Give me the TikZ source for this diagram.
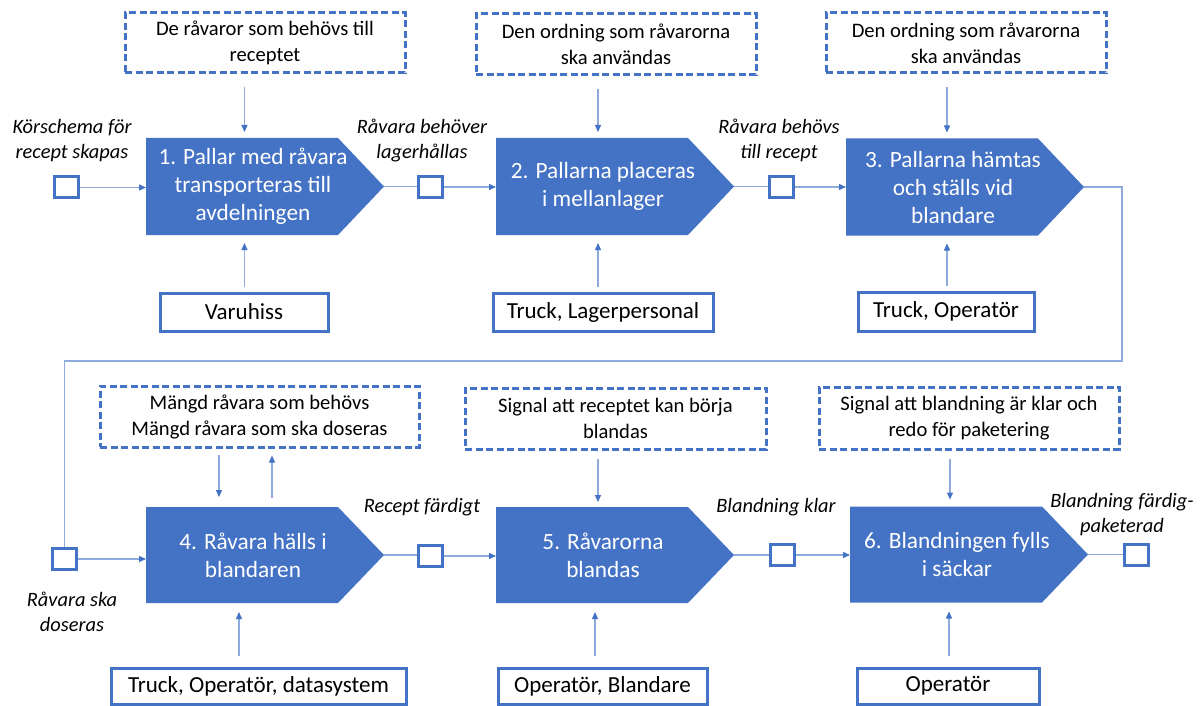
\documentclass[tikz,border=0pt]{standalone}
\usepackage{fontspec}
\setmainfont{Carlito}
\usetikzlibrary{arrows.meta,calc}
\definecolor{pblue}{HTML}{4472C4}
\definecolor{lblue}{HTML}{8FAADC}
\newcommand\procshape[1]{\fill[pblue] (#1.north west) -- ([xshift=-46pt]#1.north east) -- (#1.east) -- ([xshift=-46pt]#1.south east) -- (#1.south west) -- cycle;}
\tikzset{
 procbox/.style={minimum width=238pt, minimum height=97pt, inner sep=0pt, outer sep=0pt},
 proctext/.style={text=white, font=\fontsize{23.3}{28}\selectfont, align=center, inner sep=0pt},
 infobox/.style={draw=pblue, line width=3pt, dash pattern=on 7pt off 3.5pt, font=\fontsize{20.6}{26}\selectfont, align=center, inner sep=0pt},
 resbox/.style={draw=pblue, line width=3pt, font=\fontsize{23}{28}\selectfont, inner sep=0pt},
 evbox/.style={draw=pblue, line width=3pt, minimum width=24pt, minimum height=21pt, inner sep=0pt},
 evlabel/.style={font=\itshape\fontsize{20.4}{25}\selectfont, align=center, inner sep=0pt},
 conn/.style={draw=lblue, line width=1.3pt},
 arr/.style={conn, -{Triangle[length=7pt,width=6pt,color=pblue]}},
}
\begin{document}
\begin{tikzpicture}[x=1pt,y=-1pt]
\fill[white] (0,0) rectangle (1203,706);
\useasboundingbox (0,0) rectangle (1203,706);

% process nodes
\node[procbox] (p1) at (265,186.5) {};
\node[procbox] (p2) at (615,186.5) {};
\node[procbox] (p3) at (965,187) {};
\node[procbox,minimum height=96pt] (p4) at (265,555) {};
\node[procbox,minimum height=96pt] (p5) at (615,555) {};
\node[procbox,minimum height=96pt] (p6) at (969,554.5) {};
\procshape{p1}\procshape{p2}\procshape{p3}\procshape{p4}\procshape{p5}\procshape{p6}
\node[proctext] (t1) at ([xshift=-12pt]p1.center) {1. Pallar med råvara\\transporteras till\\avdelningen};
\node[proctext] (t2) at ([xshift=-12pt]p2.center) {2. Pallarna placeras\\i mellanlager};
\node[proctext] (t3) at ([xshift=-12pt]p3.center) {3. Pallarna hämtas\\och ställs vid\\blandare};
\node[proctext] (t4) at ([xshift=-12pt]p4.center) {4. Råvara hälls i\\blandaren};
\node[proctext] (t5) at ([xshift=-12pt]p5.center) {5. Råvarorna\\blandas};
\node[proctext] (t6) at ([xshift=-12pt]p6.center) {6. Blandningen fylls\\i säckar};

% information boxes
\node[infobox,minimum width=280pt,minimum height=60pt] (d1) at (265,43) {De råvaror som behövs till\\receptet};
\node[infobox,minimum width=280pt,minimum height=61pt] (d2) at (616,44.5) {Den ordning som råvarorna\\ska användas};
\node[infobox,minimum width=280pt,minimum height=60pt] (d3) at (966,43) {Den ordning som råvarorna\\ska användas};
\node[infobox,minimum width=319pt,minimum height=61pt] (d4) at (259.5,416.5) {Mängd råvara som behövs\\Mängd råvara som ska doseras};
\node[infobox,minimum width=301pt,minimum height=61pt] (d5) at (615.5,418.5) {Signal att receptet kan börja\\blandas};
\node[infobox,minimum width=300pt,minimum height=62pt] (d6) at (969,418) {Signal att blandning är klar och\\redo för paketering};

% resource boxes
\node[resbox,minimum width=168pt,minimum height=38pt] (r1) at (244,312) {Varuhiss};
\node[resbox,minimum width=220pt,minimum height=38pt] (r2) at (603,312) {Truck, Lagerpersonal};
\node[resbox,minimum width=176pt,minimum height=39pt] (r3) at (946,311.5) {Truck, Operatör};
\node[resbox,minimum width=295pt,minimum height=36pt] (r4) at (258.5,686) {Truck, Operatör, datasystem};
\node[resbox,minimum width=209pt,minimum height=36pt] (r5) at (602.5,686) {Operatör, Blandare};
\node[resbox,minimum width=182pt,minimum height=36pt] (r6) at (948,686) {Operatör};

% event squares
\node[evbox] (s1) at (66,187.5) {};
\node[evbox] (s2) at (430.5,187) {};
\node[evbox] (s3) at (781.5,187) {};
\node[evbox] (s4) at (64.5,559) {};
\node[evbox] (s5) at (430.5,556) {};
\node[evbox] (s6) at (782.5,555) {};
\node[evbox] (s7) at (1136.5,554.5) {};

% event labels
\node[evlabel] (l1) at (72,140.5) {Körschema för\\recept skapas};
\node[evlabel] (l2) at (422,140.5) {Råvara behöver\\lagerhållas};
\node[evlabel] (l3) at (779,140) {Råvara behövs\\till recept};
\node[evlabel] (l4) at (72,611.5) {Råvara ska\\doseras};
\node[evlabel] (l5) at (422,507) {Recept färdigt};
\node[evlabel] (l6) at (776,507) {Blandning klar};
\node[evlabel] (l7) at (1122,515) {Blandning färdig-\\paketerad};

% arrow x positions
\coordinate (u1) at (244.5,0);
\coordinate (u2) at (598,0);
\coordinate (u3) at (947,0);
\coordinate (v4a) at (219,0);
\coordinate (v4b) at (272,0);
\coordinate (v4c) at (239,0);
\coordinate (v5a) at (598,0);
\coordinate (v5c) at (595,0);
\coordinate (v6a) at (950,0);
\coordinate (v6c) at (949,0);
\coordinate (k1) at (1122,361);

% vertical arrows row 1
\draw[arr,shorten <=13pt,shorten >=6pt] (d1.south -| u1) -- (p1.north -| u1);
\draw[arr,shorten <=13pt,shorten >=6pt] (d2.south -| u2) -- (p2.north -| u2);
\draw[arr,shorten <=13pt,shorten >=6pt] (d3.south -| u3) -- (p3.north -| u3);
\draw[arr,shorten <=5pt,shorten >=8pt] (r1.north -| u1) -- (p1.south -| u1);
\draw[arr,shorten <=5pt,shorten >=8pt] (r2.north -| u2) -- (p2.south -| u2);
\draw[arr,shorten <=5pt,shorten >=8pt] (r3.north -| u3) -- (p3.south -| u3);

% vertical arrows row 2
\draw[arr,shorten <=6pt,shorten >=10pt] (d4.south -| v4a) -- (p4.north -| v4a);
\draw[arr,shorten <=9pt,shorten >=7pt] (p4.north -| v4b) -- (d4.south -| v4b);
\draw[arr,shorten <=8pt,shorten >=5pt] (d5.south -| v5a) -- (p5.north -| v5a);
\draw[arr,shorten <=8pt,shorten >=7pt] (d6.south -| v6a) -- (p6.north -| v6a);
\draw[arr,shorten <=11pt,shorten >=9pt] (r4.north -| v4c) -- (p4.south -| v4c);
\draw[arr,shorten <=11pt,shorten >=9pt] (r5.north -| v5c) -- (p5.south -| v5c);
\draw[arr,shorten <=11pt,shorten >=9pt] (r6.north -| v6c) -- (p6.south -| v6c);

% horizontal flow row 1
\draw[arr] (s1.east) -- (s1.east -| p1.west);
\draw[conn] (p1.east) -- (p1.east -| s2.west);
\draw[arr] (s2.east) -- (s2.east -| p2.west);
\draw[conn] (p2.east) -- (p2.east -| s3.west);
\draw[arr] (s3.east) -- (s3.east -| p3.west);
\draw[conn] (p3.east) -| (k1) -| (s4.north);

% horizontal flow row 2
\draw[arr] (s4.east) -- (s4.east -| p4.west);
\draw[conn] (p4.east) -- (p4.east -| s5.west);
\draw[arr] (s5.east) -- (s5.east -| p5.west);
\draw[conn] (p5.east) -- (p5.east -| s6.west);
\draw[arr] (s6.east) -- (s6.east -| p6.west);
\draw[conn] (p6.east) -- (p6.east -| s7.west);
\end{tikzpicture}
\end{document}
